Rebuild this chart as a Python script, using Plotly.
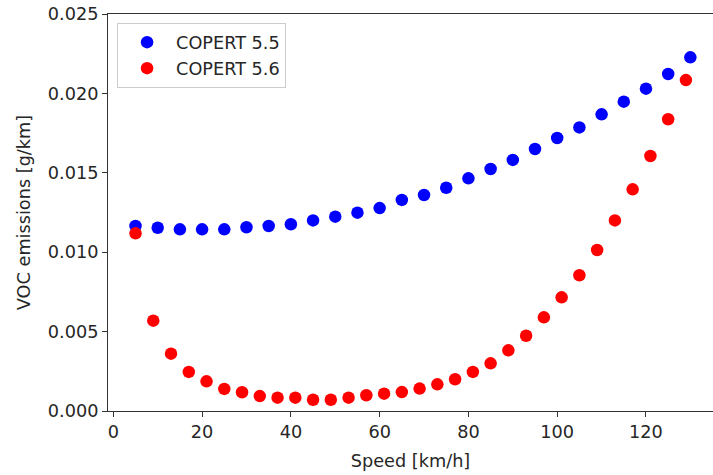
import plotly.graph_objects as go

speed_55 = [5, 10, 15, 20, 25, 30, 35, 40, 45, 50, 55, 60, 65, 70, 75, 80, 85, 90, 95, 100, 105, 110, 115, 120, 125, 130]
voc_55 = [0.01165, 0.01154, 0.01144, 0.01144, 0.01144, 0.01157, 0.01165, 0.01176, 0.01200, 0.01224, 0.01249, 0.01278,
          0.01329, 0.01360, 0.01406, 0.01465, 0.01524, 0.01581, 0.01650, 0.01719, 0.01786, 0.01868, 0.01948, 0.02030,
          0.02122, 0.02227]

speed_56 = [5, 9, 13, 17, 21, 25, 29, 33, 37, 41, 45, 49, 53, 57, 61, 65, 69, 73, 77, 81, 85, 89, 93, 97, 101, 105,
            109, 113, 117, 121, 125, 129]
voc_56 = [0.01119, 0.00569, 0.00361, 0.00246, 0.00187, 0.00139, 0.00118, 0.00094, 0.00084, 0.00084, 0.00071, 0.00071,
          0.00084, 0.00099, 0.00109, 0.00119, 0.00141, 0.00168, 0.00200, 0.00246, 0.00300, 0.00382, 0.00474, 0.00590,
          0.00716, 0.00855, 0.01014, 0.01200, 0.01396, 0.01606, 0.01837, 0.02084]

font = "DejaVu Sans"
fs = 17.7
fig = go.Figure()
fig.add_trace(go.Scatter(x=speed_55, y=voc_55, mode="markers", name="COPERT 5.5",
                         marker=dict(color="#0000ff", size=12.5, line=dict(width=0))))
fig.add_trace(go.Scatter(x=speed_56, y=voc_56, mode="markers", name="COPERT 5.6",
                         marker=dict(color="#ff0000", size=12.5, line=dict(width=0))))

axis_common = dict(showgrid=False, zeroline=False, showline=True, linecolor="#333333", linewidth=1,
                   ticks="outside", ticklen=5, tickcolor="#333333", tickwidth=1, automargin=False,
                   tickfont=dict(family=font, size=fs, color="#262626"))
fig.update_layout(
    width=713, height=475,
    margin=dict(l=108, r=0, t=14, b=64),
    paper_bgcolor="white", plot_bgcolor="white",
    font=dict(family=font, size=fs, color="#262626"),
    xaxis=dict(range=[-1.2, 135.1], tickvals=[0, 20, 40, 60, 80, 100, 120], mirror=True,
               title=dict(text="Speed [km/h]", font=dict(family=font, size=fs), standoff=13), **axis_common),
    yaxis=dict(range=[0, 0.025], tickvals=[0, 0.005, 0.01, 0.015, 0.02, 0.025], tickformat=".3f", mirror=False,
               title=dict(text="VOC emissions [g/km]", font=dict(family=font, size=fs), standoff=12), **axis_common),
    legend=dict(x=0.015, y=0.977, xanchor="left", yanchor="top", bgcolor="rgba(255,255,255,0.8)",
                bordercolor="#cccccc", borderwidth=1, font=dict(family=font, size=fs, color="#262626"),
                itemwidth=48, tracegroupgap=0),
    showlegend=True,
)
fig.write_html("out.html", config={"displayModeBar": False},
               post_script="document.body.style.margin='0';document.body.style.overflow='hidden';")
